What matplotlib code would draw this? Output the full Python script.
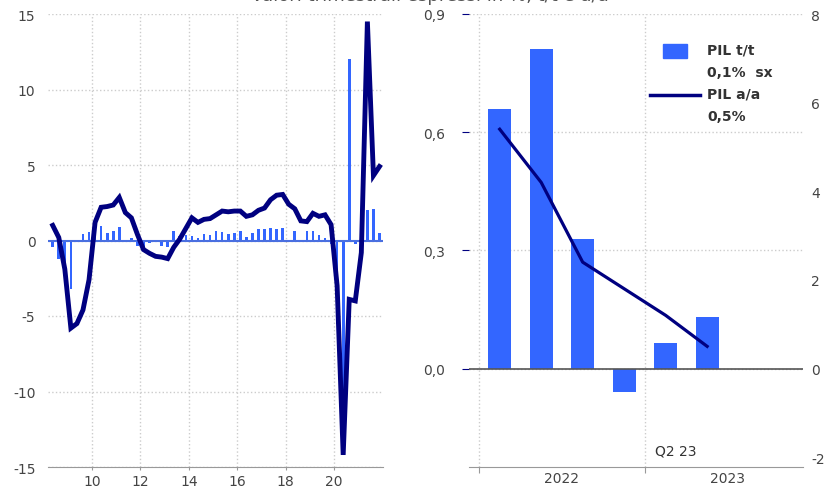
import numpy as np
import matplotlib.pyplot as plt
from matplotlib.patches import Rectangle
from matplotlib.lines import Line2D

plt.rcParams['axes.unicode_minus'] = False

# Left panel: quarterly data 2008Q2 - 2021Q4
start_year = 2008
start_q = 2
gdp_qq = [-0.4, -1.2, -2.0, -3.2, -0.1, 0.45, 0.55, 0.5, 0.95, 0.5, 0.65, 0.88,
          0.05, 0.15, -0.38, -0.6, -0.18, -0.1, -0.38, -0.45, 0.6, 0.3, 0.38, 0.33,
          0.18, 0.45, 0.38, 0.66, 0.55, 0.44, 0.49, 0.62, 0.22, 0.49, 0.75, 0.73,
          0.82, 0.77, 0.84, 0.03, 0.6, -0.05, 0.66, 0.66, 0.38, 0.15, -0.2, -5.5,
          -12.6, 12.0, -0.2, 0.1, 2.0, 2.1, 0.5]
gdp_yy = [1.0, 0.2, -1.9, -5.8, -5.5, -4.6, -2.6, 1.2, 2.2, 2.25, 2.35, 2.85,
          1.85, 1.5, 0.4, -0.6, -0.85, -1.05, -1.1, -1.2, -0.45, 0.1, 0.8, 1.5,
          1.2, 1.4, 1.45, 1.7, 1.95, 1.9, 1.95, 1.95, 1.6, 1.7, 2.0, 2.15,
          2.7, 3.0, 3.05, 2.4, 2.1, 1.3, 1.25, 1.8, 1.6, 1.7, 1.05, -3.0,
          -14.2, -3.9, -4.0, -0.8, 14.5, 4.3, 4.9]
left_ticks = [10, 12, 14, 16, 18, 20]

# Right panel: 2022Q1 - 2023Q2
q_qq = [0.66, 0.81, 0.33, -0.06, 0.065, 0.13]
q_yy = [5.4, 4.2, 2.4, 1.8, 1.2, 0.5]
year_labels = ['2022', '2023']
legend_labels = [('PIL t/t', '0,1%  sx'), ('PIL a/a', '0,5%')]
note = 'Q2 23'
title = 'Valori trimestrali espressi in %, t/t e a/a'

BAR = '#3366ff'
LINE = '#000080'
TXT = '#444444'
GRID = '#cccccc'

n = len(gdp_qq)
qidx = np.arange(n) + (start_q - 1)
xq = (start_year - 2000) + qidx // 4 + ((qidx % 4) + 0.5) / 4

fig = plt.figure(figsize=(8.27, 4.89), dpi=100)
W, H = 827, 489

def box(x0, x1, y0, y1):
    return [x0 / W, 1 - y1 / H, (x1 - x0) / W, (y1 - y0) / H]

# ---------------- left panel
ax = fig.add_axes(box(48, 383, 15, 468))
ax.bar(xq, gdp_qq, width=0.11, color=BAR, zorder=2)
ax.axhline(0, color='#4a6fe0', lw=1.5, zorder=3)
ax.plot(xq, gdp_yy, color=LINE, lw=3.5, zorder=4, solid_joinstyle='miter')
ax.set_xlim(8.18, 22.02)
ax.set_ylim(-15, 15)
ax.set_yticks([-15, -10, -5, 0, 5, 10, 15])
ax.set_xticks(left_ticks)
ax.set_xticklabels([str(t) for t in left_ticks])
ax.grid(True, ls=':', color=GRID, lw=1, zorder=0)
for s in ['top', 'right', 'left']:
    ax.spines[s].set_visible(False)
ax.spines['bottom'].set_color('#999999')
ax.tick_params(axis='y', length=0, pad=9, labelsize=10, labelcolor=TXT)
ax.tick_params(axis='x', length=2, color='#999999', pad=3, labelsize=10, labelcolor=TXT)

# ---------------- right panel
ax2 = fig.add_axes(box(469, 803, 15, 468))
pos = np.arange(len(q_qq))
ax2.bar(pos, q_qq, width=0.55, color=BAR, zorder=2)
ax2.axhline(0, color='#555555', lw=1.2, zorder=3)
ax2.set_xlim(-0.74, 7.31)
ax2.set_ylim(-0.25, 0.9)
ax2.set_yticks([0.0, 0.3, 0.6, 0.9])
ax2.set_yticklabels(['0,0', '0,3', '0,6', '0,9'])
ax2.set_xticks([-0.5, 3.5])
ax2.set_xticklabels(['', ''])
ax2.set_xticks([1.5, 5.5], minor=True)
ax2.set_xticklabels(year_labels, minor=True)
ax2.tick_params(axis='x', which='minor', length=0, pad=3, labelsize=10, labelcolor=TXT)
ax2.tick_params(axis='x', which='major', length=4, color='#999999')
ax2.tick_params(axis='y', length=5, color=LINE, pad=12, labelsize=10, labelcolor=TXT)
ax2.grid(True, which='major', ls=':', color=GRID, lw=1, zorder=0)
for s in ['top', 'right', 'left']:
    ax2.spines[s].set_visible(False)
ax2.spines['bottom'].set_color('#999999')

ax3 = ax2.twinx()
ax3.plot(pos, q_yy, color=LINE, lw=2.3, zorder=4)
ax3.set_ylim(-2.2222, 8)
ax3.set_yticks([-2, 0, 2, 4, 6, 8])
ax3.tick_params(axis='y', length=0, pad=6, labelsize=10, labelcolor=TXT)
for s in ax3.spines.values():
    s.set_visible(False)

ax2.text((655 - 469) / 334, (468 - 452) / 453, note,
         transform=ax2.transAxes, fontsize=10, color='#333333', va='center', ha='left')

# legend drawn by hand
fig.add_artist(Rectangle((663 / W, 1 - 59 / H), 24 / W, 14 / H,
                         transform=fig.transFigure, color=BAR))
fig.add_artist(Line2D([650 / W, 700 / W], [1 - 96 / H, 1 - 96 / H],
                      transform=fig.transFigure, color=LINE, lw=2.5))
for (a, b), yy in zip(legend_labels, [51, 95]):
    fig.text(707 / W, 1 - yy / H, a, fontsize=10, weight='bold', color='#333333', va='center')
    fig.text(707 / W, 1 - (yy + 22) / H, b, fontsize=10, weight='bold', color='#333333', va='center')

# title sits partly above the top edge, as in the source image
fig.text(430 / W, 1 + 4 / H, title, fontsize=13, color='#555555', ha='center', va='center')

fig.savefig('out.png', dpi=100)
